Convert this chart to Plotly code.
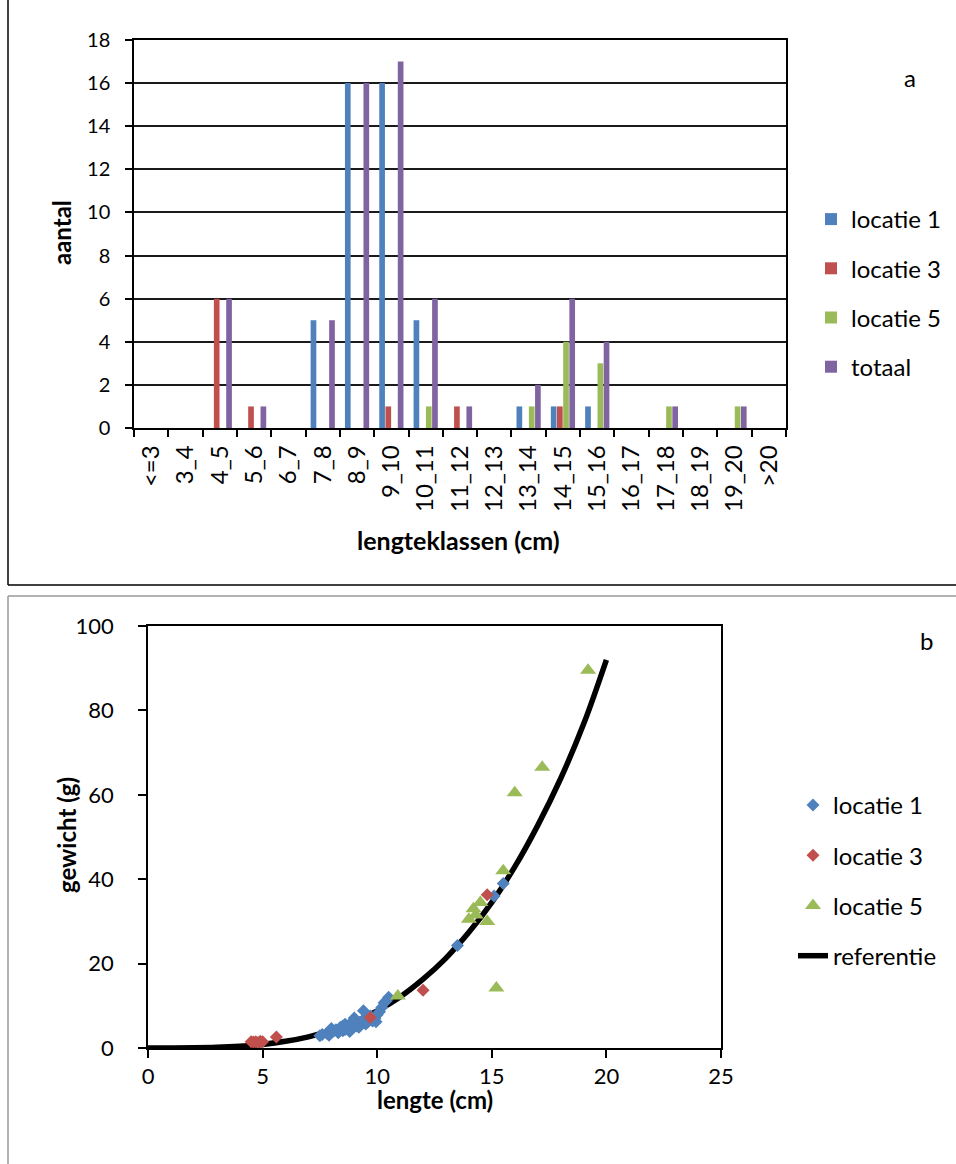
import plotly.graph_objects as go

W, H = 956, 1164

# ---------------- data: panel a ----------------
classes = ["<=3", "3_4", "4_5", "5_6", "6_7", "7_8", "8_9", "9_10", "10_11", "11_12",
           "12_13", "13_14", "14_15", "15_16", "16_17", "17_18", "18_19", "19_20", ">20"]
loc1_counts = [0, 0, 0, 0, 0, 5, 16, 16, 5, 0, 0, 1, 1, 1, 0, 0, 0, 0, 0]
loc3_counts = [0, 0, 6, 1, 0, 0, 0, 1, 0, 1, 0, 0, 1, 0, 0, 0, 0, 0, 0]
loc5_counts = [0, 0, 0, 0, 0, 0, 0, 0, 1, 0, 0, 1, 4, 3, 0, 1, 0, 1, 0]
total_counts = [0, 0, 6, 1, 0, 5, 16, 17, 6, 1, 0, 2, 6, 4, 0, 1, 0, 1, 0]
a_series = ["locatie 1", "locatie 3", "locatie 5", "totaal"]

# ---------------- data: panel b ----------------
loc1_len = [7.5, 7.6, 7.8, 7.9, 7.95, 8.0, 8.1, 8.2, 8.3, 8.4, 8.5, 8.5, 8.6, 8.6, 8.7,
            8.8, 8.8, 8.9, 8.9, 8.95, 9.0, 9.0, 9.1, 9.1, 9.2, 9.2, 9.3, 9.4, 9.4, 9.5,
            9.5, 9.6, 9.7, 9.8, 9.9, 9.95, 10.0, 10.1, 10.2, 10.3, 10.5, 10.4,
            13.5, 15.1, 15.5]
loc1_wt = [2.9, 3.2, 3.5, 3.0, 3.8, 4.6, 4.0, 4.3, 3.6, 4.9, 4.1, 5.2, 4.4, 5.6, 4.8,
           3.9, 5.3, 4.6, 6.2, 5.0, 5.8, 7.1, 5.2, 6.4, 5.6, 4.9, 6.0, 8.8, 6.6, 5.7,
           7.3, 6.2, 7.6, 6.4, 7.0, 6.2, 7.9, 8.6, 9.6, 10.7, 12.0, 11.2,
           24.3, 36.0, 39.0]
loc3_len = [4.5, 4.6, 4.7, 4.8, 4.9, 5.0, 5.6, 9.7, 12.0, 14.8]
loc3_wt = [1.5, 1.4, 1.5, 1.3, 1.6, 1.5, 2.6, 7.2, 13.7, 36.3]
loc5_len = [10.9, 14.0, 14.2, 14.3, 14.5, 14.8, 15.2, 15.5, 16.0, 17.2, 19.2]
loc5_wt = [12.3, 30.5, 33.0, 31.5, 34.5, 30.0, 14.2, 42.0, 60.5, 66.5, 89.5]
ref_len = [0, 1, 2, 3, 4, 5, 6, 7, 8, 9, 10, 11, 12, 13, 14, 15, 16, 17, 18, 19, 20]
ref_wt = [0.0, 0.004, 0.04, 0.15, 0.40, 0.85, 1.58, 2.65, 4.16, 6.18, 8.81, 12.1,
          16.3, 21.3, 27.4, 34.5, 42.9, 52.7, 63.8, 76.7, 92.0]
b_series = ["locatie 1", "locatie 3", "locatie 5", "referentie"]

FONT = "Lato, 'Open Sans', sans-serif"
BLUE, RED, GREEN, PURPLE = "#4F81BD", "#C0504D", "#9BBB59", "#8064A2"


def fx(px):
    return px / W


def fy(py):
    return 1 - py / H


fig = go.Figure()

for i, (name, vals, col) in enumerate(zip(a_series, [loc1_counts, loc3_counts, loc5_counts, total_counts],
                                          [BLUE, RED, GREEN, PURPLE])):
    fig.add_trace(go.Bar(x=classes, y=vals, name=name, marker_color=col,
                         marker_line_width=0, xaxis="x", yaxis="y",
                         legend="legend", legendgroup="a%d" % i, legendrank=i + 1))

# reference line first so it stays beneath the markers
fig.add_trace(go.Scatter(x=ref_len, y=ref_wt, mode="lines", name=b_series[3],
                         line=dict(color="black", width=5.5, shape="spline"),
                         xaxis="x2", yaxis="y2", legend="legend2", legendgroup="b4",
                         legendrank=4))
fig.add_trace(go.Scatter(x=loc1_len, y=loc1_wt, mode="markers", name=b_series[0],
                         marker=dict(symbol="diamond", size=10, color=BLUE),
                         xaxis="x2", yaxis="y2", legend="legend2", legendgroup="b1",
                         legendrank=1))
fig.add_trace(go.Scatter(x=loc3_len, y=loc3_wt, mode="markers", name=b_series[1],
                         marker=dict(symbol="diamond", size=10, color=RED),
                         xaxis="x2", yaxis="y2", legend="legend2", legendgroup="b2",
                         legendrank=2))
fig.add_trace(go.Scatter(x=loc5_len, y=loc5_wt, mode="markers", name=b_series[2],
                         marker=dict(symbol="triangle-up", size=14, color=GREEN),
                         xaxis="x2", yaxis="y2", legend="legend2", legendgroup="b3",
                         legendrank=3))

fig.update_layout(
    width=W, height=H,
    margin=dict(l=0, r=0, t=0, b=0, pad=0, autoexpand=False),
    paper_bgcolor="white", plot_bgcolor="white",
    font=dict(family=FONT, size=20, color="black"),
    barmode="group", bargap=0.28, bargroupgap=0.08,
    xaxis=dict(domain=[fx(134), fx(786)], type="category", range=[-0.5, 18.5],
               tickangle=-90, tickson="boundaries", ticks="outside", ticklen=7,
               tickcolor="black", tickwidth=1.5, showgrid=False, showline=True,
               linecolor="black", linewidth=1.5, mirror=True,
               tickfont=dict(family=FONT, size=24, color="black"),
               ticklabelstandoff=6, anchor="y", automargin=False),
    yaxis=dict(domain=[fy(428), fy(40)], range=[0, 18], dtick=2, ticks="outside",
               ticklen=7, tickcolor="black", tickwidth=1.5, showgrid=True,
               gridcolor="#1a1a1a", gridwidth=1.5, showline=True, linecolor="black",
               linewidth=1.5, mirror=True,
               tickfont=dict(family=FONT, size=20, color="black"),
               ticklabelstandoff=11, anchor="x", zeroline=False, automargin=False),
    xaxis2=dict(domain=[fx(148), fx(721)], range=[0, 25], dtick=5, ticks="outside",
                ticklen=8, tickcolor="black", tickwidth=1.5, showgrid=False,
                showline=True, linecolor="black", linewidth=1.5, mirror=True,
                tickfont=dict(family=FONT, size=22, color="black"),
                anchor="y2", zeroline=False, automargin=False),
    yaxis2=dict(domain=[fy(1048), fy(626)], range=[0, 100], dtick=20, ticks="outside",
                ticklen=8, tickcolor="black", tickwidth=1.5, showgrid=False,
                showline=True, linecolor="black", linewidth=1.5, mirror=True,
                tickfont=dict(family=FONT, size=22, color="black"),
                ticklabelstandoff=20, anchor="x2", zeroline=False, automargin=False),
    legend=dict(x=fx(811), y=fy(197), xanchor="left", yanchor="top",
                font=dict(family=FONT, size=24), tracegroupgap=15,
                traceorder="grouped", bgcolor="rgba(0,0,0,0)"),
    legend2=dict(x=fx(793), y=fy(783), xanchor="left", yanchor="top",
                 font=dict(family=FONT, size=24), tracegroupgap=16,
                 traceorder="grouped", bgcolor="rgba(0,0,0,0)"),
    showlegend=True,
)

ann = [
    ("aantal", 62, 233, -90, 24, True),
    ("lengteklassen (cm)", 458, 540, 0, 25, True),
    ("gewicht (g)", 66, 835, -90, 24, True),
    ("lengte (cm)", 435, 1099, 0, 24, True),
    ("a", 910, 78, 0, 24, False),
    ("b", 926, 640, 0, 24, False),
]
for text, px, py, ang, size, bold in ann:
    t = "<b>%s</b>" % text if bold else text
    fig.add_annotation(text=t, x=fx(px), y=fy(py), xref="paper", yref="paper",
                       xanchor="center", yanchor="middle", showarrow=False,
                       textangle=ang, font=dict(family=FONT, size=size, color="black"))

# panel frames
fig.add_shape(type="line", xref="paper", yref="paper", x0=fx(8), x1=fx(8), y0=fy(0), y1=fy(585),
              line=dict(color="black", width=1.5))
fig.add_shape(type="line", xref="paper", yref="paper", x0=fx(8), x1=fx(956), y0=fy(585), y1=fy(585),
              line=dict(color="black", width=1.5))
fig.add_shape(type="line", xref="paper", yref="paper", x0=fx(8), x1=fx(8), y0=fy(596), y1=fy(1164),
              line=dict(color="#9a9a9a", width=1.5))
fig.add_shape(type="line", xref="paper", yref="paper", x0=fx(8), x1=fx(956), y0=fy(596), y1=fy(596),
              line=dict(color="#9a9a9a", width=1.5))

fig.write_html("out.html", config={"displayModeBar": False},
               post_script="document.body.style.margin='0';document.body.style.overflow='hidden';")
